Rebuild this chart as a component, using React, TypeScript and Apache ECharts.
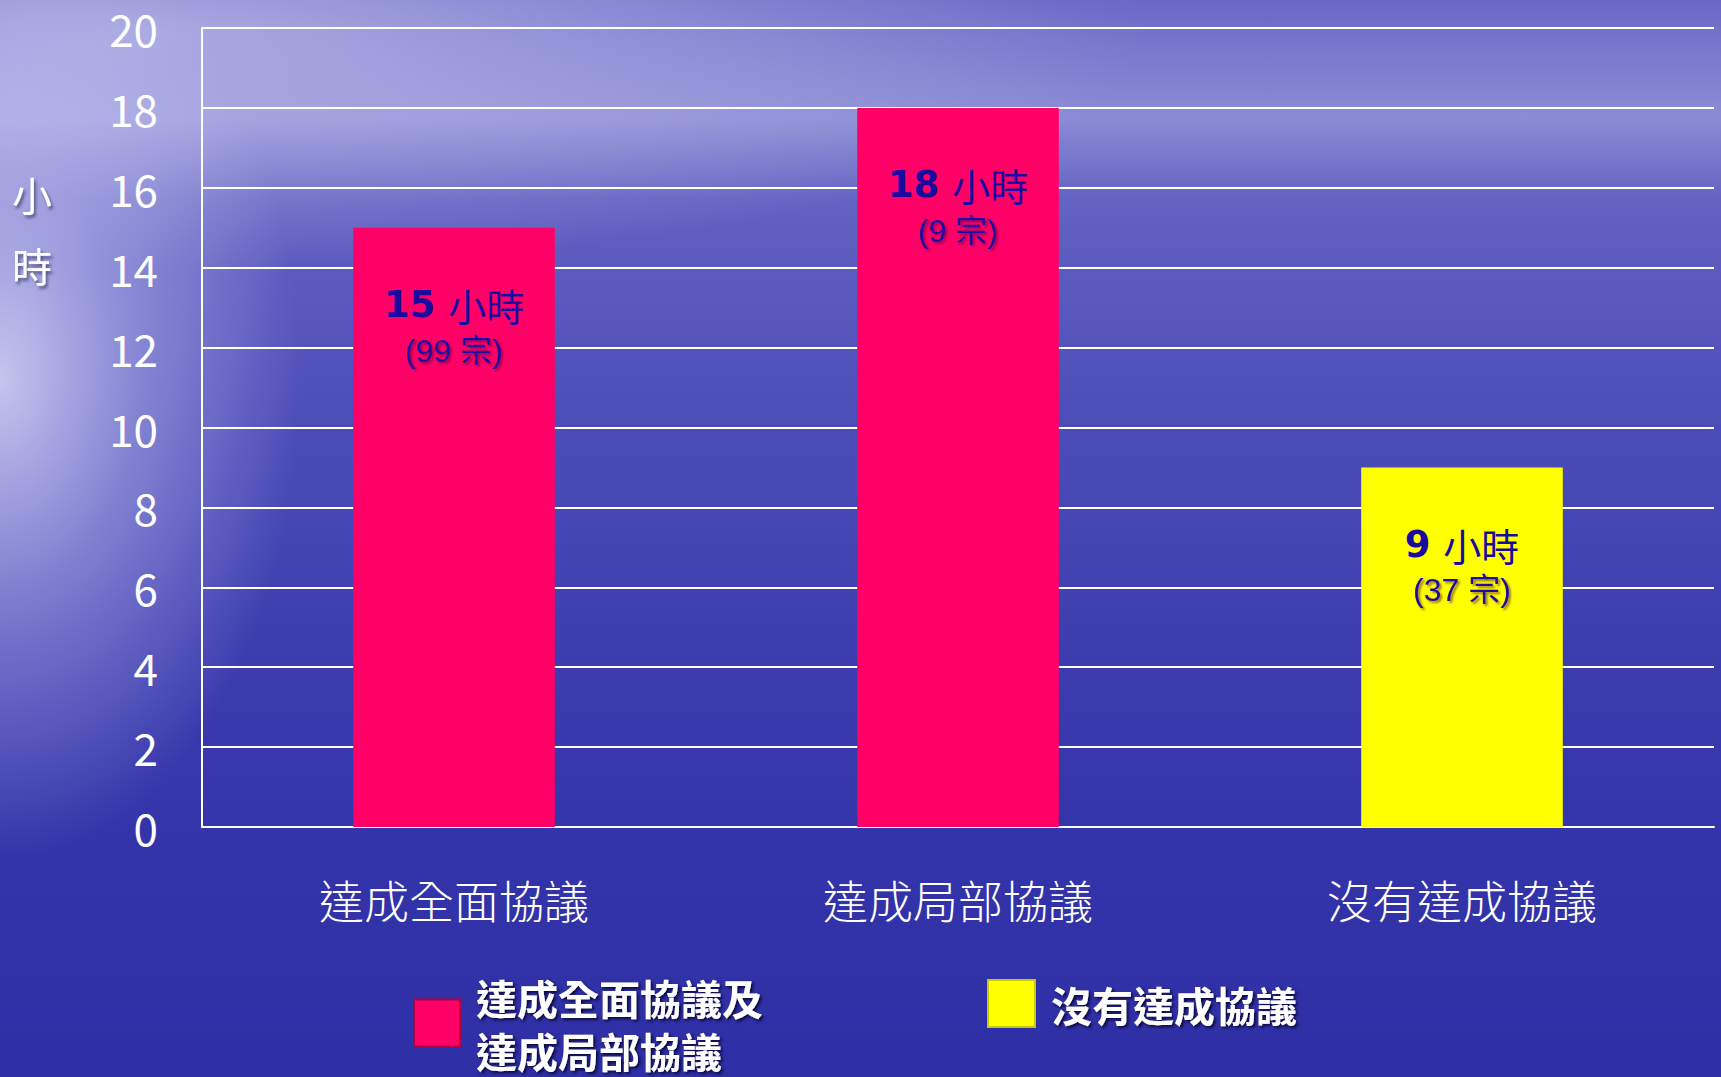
import React, { useEffect, useRef } from "react";
import * as echarts from "echarts";

const categories = ["達成全面協議", "達成局部協議", "沒有達成協議"];
const hours = [15, 18, 9];
const caseCounts = [99, 9, 37];
const outcomeGroup = [0, 0, 1];
const legendNames = ["達成全面協議及\n達成局部協議", "沒有達成協議"];
const seriesColors = ["#FF0066", "#FFFF00"];
const yMin = 0;
const yMax = 20;
const yStep = 2;
const yAxisTitle = "小\n時";

const CJK = "'Noto Sans CJK TC', 'Noto Sans', sans-serif";

export default function App() {
  const ref = useRef<HTMLDivElement>(null);

  useEffect(() => {
    if (!ref.current) return;
    const chart = echarts.init(ref.current, undefined, { renderer: "svg" });

    const labelStyle = {
      show: true,
      position: "insideTop",
      distance: 54,
      formatter: (p: any) => `{a|${p.value} }{c|小時}\n{b|(${caseCounts[p.dataIndex]} 宗)}`,
      rich: {
        a: {
          fontFamily: "'DejaVu Sans', sans-serif",
          fontWeight: "bold",
          fontSize: 37,
          color: "#1a0aa0",
          lineHeight: 46,
        },
        c: {
          fontFamily: CJK,
          fontSize: 38,
          color: "#1a0aa0",
          lineHeight: 46,
        },
        b: {
          fontFamily: "'Liberation Sans', " + CJK,
          fontSize: 32,
          color: "#1a0aa0",
          lineHeight: 46,
          textShadowColor: "rgba(80,0,60,0.55)",
          textShadowBlur: 2,
          textShadowOffsetX: 2,
          textShadowOffsetY: 2,
        },
      },
    };

    const series = legendNames.map((name, g) => ({
      name,
      type: "bar",
      stack: "total",
      barWidth: "40%",
      itemStyle: { color: seriesColors[g] },
      label: labelStyle,
      data: hours.map((v, i) => (outcomeGroup[i] === g ? v : "-")),
    }));

    const legendText = {
      color: "#ffffff",
      fontSize: 41,
      lineHeight: 53,
      fontWeight: "bold",
      fontFamily: CJK,
      textShadowColor: "rgba(0,0,40,0.8)",
      textShadowBlur: 3,
      textShadowOffsetX: 2,
      textShadowOffsetY: 2,
    };

    chart.setOption({
      animation: false,
      backgroundColor: "transparent",
      title: {
        text: yAxisTitle,
        left: 12,
        top: 158,
        padding: 0,
        textStyle: {
          color: "#ffffff",
          fontSize: 40,
          lineHeight: 71,
          fontWeight: "normal",
          fontFamily: CJK,
          textShadowColor: "rgba(40,40,80,0.6)",
          textShadowBlur: 3,
          textShadowOffsetX: 2,
          textShadowOffsetY: 3,
        },
      },
      legend: [
        {
          data: [legendNames[0]],
          left: 413,
          top: 970,
          padding: 0,
          icon: "rect",
          itemWidth: 46,
          itemHeight: 47,
          itemGap: 0,
          textStyle: { ...legendText, padding: [0, 0, 0, 11] },
          itemStyle: { borderColor: "#b0003f", borderWidth: 2 },
        },
        {
          data: [legendNames[1]],
          left: 987,
          top: 977,
          padding: 0,
          icon: "rect",
          itemWidth: 47,
          itemHeight: 47,
          itemGap: 0,
          textStyle: { ...legendText, padding: [0, 0, 0, 11] },
          itemStyle: { borderColor: "#c8c800", borderWidth: 2 },
        },
      ],
      grid: { left: 202, right: 7, top: 28, bottom: 250 },
      xAxis: {
        type: "category",
        data: categories,
        axisLine: { show: true, lineStyle: { color: "#ffffff", width: 2 } },
        axisTick: { show: false },
        axisLabel: {
          color: "#ffffff",
          fontSize: 45,
          margin: 50,
          fontFamily: CJK,
          fontWeight: 300,
        },
      },
      yAxis: {
        type: "value",
        min: yMin,
        max: yMax,
        interval: yStep,
        axisLine: { show: true, lineStyle: { color: "#ffffff", width: 2 } },
        axisTick: { show: false },
        splitLine: { show: true, lineStyle: { color: "#ffffff", width: 2 } },
        axisLabel: {
          color: "#ffffff",
          fontSize: 44,
          margin: 44,
          fontFamily: CJK,
          fontWeight: "normal",
        },
      },
      series,
    });

    return () => chart.dispose();
  }, []);

  const bg = [
    "radial-gradient(ellipse 300px 480px at 0px 380px, rgba(235,235,255,0.75) 0%, rgba(200,200,245,0.45) 45%, rgba(160,160,230,0) 100%)",
    "radial-gradient(ellipse 1000px 240px at 150px 30px, rgba(205,205,240,0.6) 0%, rgba(170,170,230,0) 100%)",
    "linear-gradient(180deg, rgba(255,255,255,0) 0px, rgba(190,190,240,0.35) 120px, rgba(190,190,240,0.2) 150px, rgba(255,255,255,0) 200px)",
    "linear-gradient(180deg, #6868c6 0%, #7070c8 10%, #5e5ec0 22%, #4c4cb8 40%, #3e3eb0 58%, #3434aa 78%, #2e2ea6 100%)",
  ].join(", ");

  return (
    <div
      style={{
        position: "absolute",
        left: 0,
        top: 0,
        width: 1721,
        height: 1077,
        background: bg,
        overflow: "hidden",
      }}
    >
      <div ref={ref} style={{ width: 1721, height: 1077 }} />
    </div>
  );
}
